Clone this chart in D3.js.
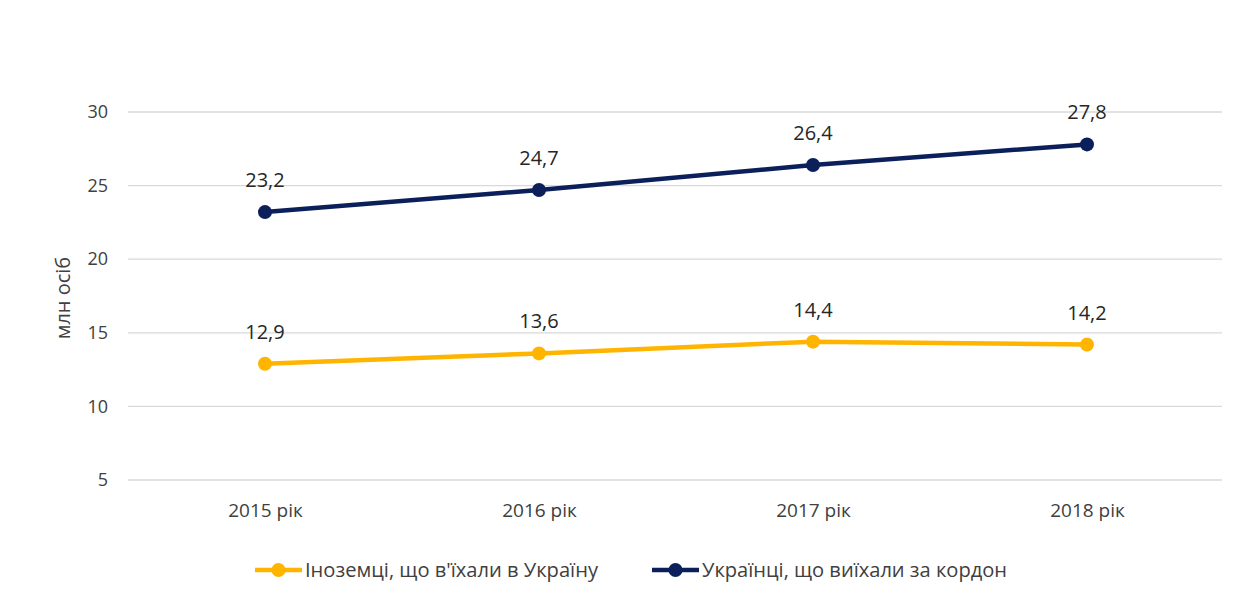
<!DOCTYPE html>
<html>
<head>
<meta charset="utf-8">
<script src="https://cdn.jsdelivr.net/npm/d3@7"></script>
<style>
body { margin: 0; background: #fff; }
svg { font-family: "Open Sans", sans-serif; }
</style>
</head>
<body>
<svg width="1238" height="601"></svg>
<script>
var years = ["2015 рік", "2016 рік", "2017 рік", "2018 рік"];
var foreigners = [12.9, 13.6, 14.4, 14.2];
var ukrainians = [23.2, 24.7, 26.4, 27.8];
var yTicks = [5, 10, 15, 20, 25, 30];
var seriesNames = ["Іноземці, що в'їхали в Україну", "Українці, що виїхали за кордон"];
var seriesColors = ["#FFB400", "#0B1F5B"];

var svg = d3.select("svg");

var x = d3.scalePoint().domain(years).range([265, 1087]);
var y = d3.scaleLinear().domain([5, 30]).range([480, 112]);

// gridlines
svg.append("g")
    .selectAll("line")
    .data(yTicks)
    .enter().append("line")
    .attr("x1", 128).attr("x2", 1222)
    .attr("y1", function(d) { return y(d); })
    .attr("y2", function(d) { return y(d); })
    .style("stroke", "#d9d9d9")
    .style("stroke-width", 1.3);

// y axis labels
var yAxis = d3.axisLeft(y).tickValues(yTicks).tickSize(0).tickPadding(0);
svg.append("g")
    .attr("transform", "translate(108,0)")
    .call(yAxis)
    .call(function(g) { g.select(".domain").remove(); })
    .selectAll("text")
    .style("font-size", "18px")
    .style("font-family", "'Open Sans', sans-serif")
    .attr("fill", "#404040");

// x axis labels
var xAxis = d3.axisBottom(x).tickSize(0).tickPadding(0);
svg.append("g")
    .attr("transform", "translate(0,503)")
    .call(xAxis)
    .call(function(g) { g.select(".domain").remove(); })
    .selectAll("text")
    .style("font-size", "19px")
    .style("font-family", "'Open Sans', sans-serif")
    .attr("fill", "#404040");

// y title
svg.append("text")
    .attr("transform", "translate(70,298) rotate(-90)")
    .attr("text-anchor", "middle")
    .style("font-size", "20px")
    .attr("fill", "#404040")
    .text("млн осіб");

var line = d3.line()
    .x(function(d, i) { return x(years[i]); })
    .y(function(d) { return y(d); });

[foreigners, ukrainians].forEach(function(vals, s) {
    var g = svg.append("g");
    g.append("path")
        .datum(vals)
        .attr("d", line)
        .style("fill", "none")
        .style("stroke", seriesColors[s])
        .style("stroke-width", 4.5);
    g.selectAll("circle")
        .data(vals)
        .enter().append("circle")
        .attr("cx", function(d, i) { return x(years[i]); })
        .attr("cy", function(d) { return y(d); })
        .attr("r", 7)
        .style("fill", seriesColors[s]);
    g.selectAll("text")
        .data(vals)
        .enter().append("text")
        .attr("x", function(d, i) { return x(years[i]); })
        .attr("y", function(d) { return y(d) - 25; })
        .attr("text-anchor", "middle")
        .style("font-size", "20px")
        .attr("fill", "#262626")
        .text(function(d) { return String(d).replace(".", ","); });
});

// legend
var legendX = [255, 652];
seriesNames.forEach(function(name, s) {
    var lg = svg.append("g").attr("transform", "translate(" + legendX[s] + ",570)");
    lg.append("line")
        .attr("x1", 0).attr("x2", 47)
        .style("stroke", seriesColors[s])
        .style("stroke-width", 4.5);
    lg.append("circle")
        .attr("cx", 23.5).attr("r", 7)
        .style("fill", seriesColors[s]);
    lg.append("text")
        .attr("x", 50).attr("y", 7)
        .attr("textLength", s === 0 ? 293 : 305)
        .attr("lengthAdjust", "spacingAndGlyphs")
        .style("font-size", "20px")
        .attr("fill", "#404040")
        .text(name);
});
</script>
</body>
</html>
